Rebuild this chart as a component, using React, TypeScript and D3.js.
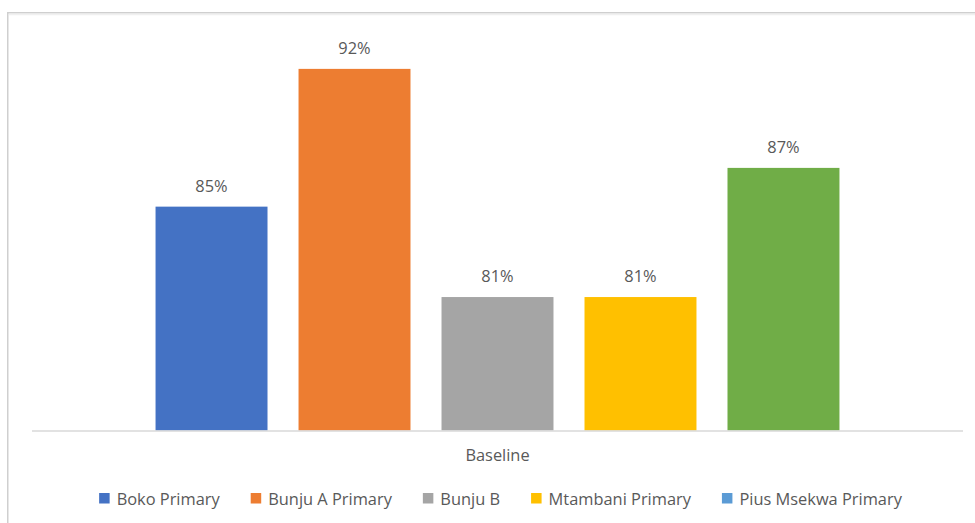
import React from "react";
import * as d3 from "d3";

const schools = ["Boko Primary", "Bunju A Primary", "Bunju B", "Mtambani Primary", "Pius Msekwa Primary"];
const values = [85.4, 91.8, 81.2, 81.2, 87.2];
const barColors = ["#4472C4", "#ED7D31", "#A5A5A5", "#FFC000", "#70AD47"];
const legendColors = ["#4472C4", "#ED7D31", "#A5A5A5", "#FFC000", "#5B9BD5"];
const categoryLabel = "Baseline";

const W = 975;
const H = 523;
const FONT = "'Open Sans', 'Liberation Sans', sans-serif";
const TEXT = "#595959";

function measure(text: string, size: number): number {
  const c = document.createElement("canvas").getContext("2d");
  if (!c) return text.length * size * 0.52;
  c.font = `${size}px 'Open Sans'`;
  return c.measureText(text).width;
}

export default function App() {
  const x = d3
    .scaleBand<string>()
    .domain(schools)
    .range([32, 963])
    .paddingInner(0.217)
    .paddingOuter(0.864);
  const y = d3.scaleLinear().domain([75, 95]).range([430.5, 0]);

  const legendSize = 16.4;
  const sq = 10.5;
  const sqGap = 7;
  const itemGap = 31;
  const widths = schools.map((s) => measure(s, legendSize));
  const total = widths.reduce((a, w) => a + sq + sqGap + w, 0) + itemGap * (schools.length - 1);
  let cursor = 500.5 - total / 2;
  const legendItems = schools.map((s, i) => {
    const x0 = cursor;
    cursor += sq + sqGap + widths[i] + itemGap;
    return { s, x0, color: legendColors[i] };
  });

  return (
    <svg
      width={W}
      height={H}
      style={{ position: "absolute", left: 0, top: 0, display: "block", background: "#fff" }}
      fontFamily={FONT}
    >
      <rect x={0} y={0} width={W} height={H} fill="#fff" />
      {/* chart border */}
      <line x1={8} y1={12.75} x2={W} y2={12.75} stroke="#cfcfcf" strokeWidth={1.5} />
      <line x1={7.75} y1={12} x2={7.75} y2={H} stroke="#cfcfcf" strokeWidth={1.5} />
      <line x1={9} y1={14.5} x2={W} y2={14.5} stroke="#f0f0f0" strokeWidth={1.5} />

      {schools.map((s, i) => (
        <rect
          key={s}
          x={x(s)}
          y={y(values[i])}
          width={x.bandwidth()}
          height={y(75) - y(values[i])}
          fill={barColors[i]}
        />
      ))}

      <line x1={32} y1={431} x2={963} y2={431} stroke="#d9d9d9" strokeWidth={1.5} />

      {schools.map((s, i) => (
        <text
          key={s + "l"}
          x={(x(s) as number) + x.bandwidth() / 2}
          y={y(values[i]) - 15}
          textAnchor="middle"
          fontSize={16.4}
          fill={TEXT}
        >
          {`${Math.round(values[i])}%`}
        </text>
      ))}

      <text x={497.5} y={461} textAnchor="middle" fontSize={16.4} fill={TEXT}>
        {categoryLabel}
      </text>

      {legendItems.map((it) => (
        <g key={it.s + "g"}>
          <rect x={it.x0} y={493} width={sq} height={sq} fill={it.color} />
          <text x={it.x0 + sq + sqGap} y={504.5} fontSize={legendSize} fill={TEXT}>
            {it.s}
          </text>
        </g>
      ))}
    </svg>
  );
}
